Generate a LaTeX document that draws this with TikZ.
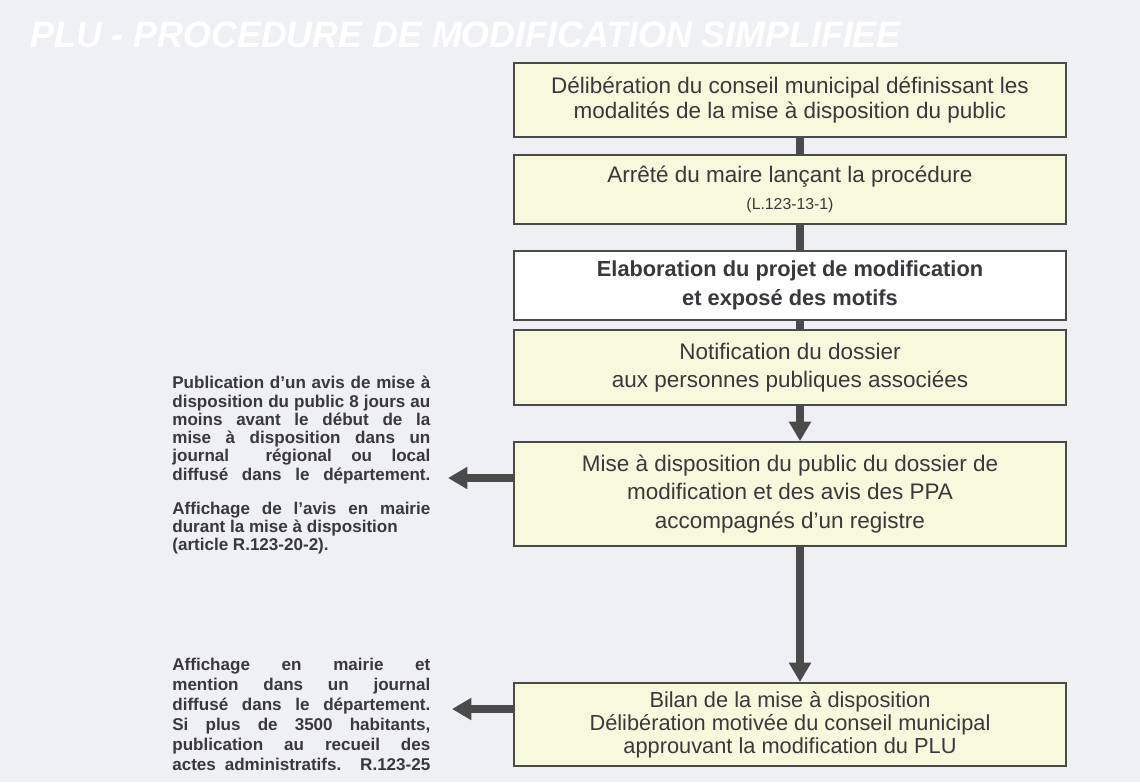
\documentclass[tikz,border=0pt]{standalone}
\usepackage{fontspec}
\setmainfont{Liberation Sans}
\usetikzlibrary{arrows.meta}
\definecolor{fond}{HTML}{EEF0F3}
\definecolor{jaune}{HTML}{F6F9DC}
\definecolor{trait}{HTML}{4A4A4A}
\definecolor{texte}{HTML}{3A383C}
\newlength{\largeur}\setlength{\largeur}{5.16cm}
\newcommand{\ligne}[1]{\makebox[\largeur][s]{#1}}
\tikzset{
	etape/.style={draw=trait, line width=1.1pt, fill=jaune, text=texte, minimum width=11.04cm, align=center, inner sep=0pt, font=\fontsize{12.8}{14.5}\selectfont},
	lien/.style={draw=trait, line width=4pt},
	fleche/.style={lien, -{Triangle[width=12pt,length=11pt]}},
	note/.style={text=texte, align=left, inner sep=0pt, anchor=north west, font=\bfseries\fontsize{9.7}{10.4}\selectfont}
}
\begin{document}
\begin{tikzpicture}
		\useasboundingbox[fill=fond] (0,0) rectangle (22.8,-15.64);
		\coordinate (axe) at (16,0);
		\coordinate (t1) at (8.96,-9.56);
		\coordinate (t2) at (9.04,-14.18);

		\node[anchor=base west, inner sep=0pt, text=white, font=\bfseries\itshape\fontsize{21}{21}\selectfont] (titre) at (0.6,-0.94) {\scalebox{0.97}[1]{PLU - PROCEDURE DE MODIFICATION SIMPLIFIEE}};

		\node[etape, minimum height=1.48cm] (b1) at (15.8,-2.0) {Délibération du conseil municipal définissant les\\modalités de la mise à disposition du public};
		\node[etape, minimum height=1.38cm] (b2) at (15.8,-3.79) {Arrêté du maire lançant la procédure\\[1pt]{\fontsize{9}{10}\selectfont (L.123-13-1)}};
		\node[etape, minimum height=1.38cm, fill=white, font=\bfseries\fontsize{12.4}{16.4}\selectfont] (b3) at (15.8,-5.71) {Elaboration du projet de modification\\et exposé des motifs};
		\node[etape, minimum height=1.5cm, font=\fontsize{12.8}{15.9}\selectfont] (b4) at (15.8,-7.35) {Notification du dossier\\aux personnes publiques associées};
		\node[etape, minimum height=2.08cm, font=\fontsize{12.8}{16}\selectfont] (b5) at (15.8,-9.88) {Mise à disposition du public du dossier de\\modification et des avis des PPA\\accompagnés d'un registre};
		\node[etape, minimum height=1.66cm, font=\fontsize{12.4}{13}\selectfont] (b6) at (15.8,-14.49) {Bilan de la mise à disposition\\Délibération motivée du conseil municipal\\approuvant la modification du PLU};

		\node[note] (n1) at (3.44,-7.52) {\ligne{Publication d'un avis de mise à}\\\ligne{disposition du public 8 jours au}\\\ligne{moins avant le début de la}\\\ligne{mise à disposition dans un}\\\ligne{journal \quad régional ou local}\\\ligne{diffusé dans le département.}\\[9pt]\ligne{Affichage de l'avis en mairie}\\durant la mise à disposition\\(article R.123-20-2).};
		\node[note, font=\bfseries\fontsize{9.7}{11.4}\selectfont] (n2) at (3.44,-13.15) {\ligne{Affichage en mairie et}\\\ligne{mention dans un journal}\\\ligne{diffusé dans le département.}\\\ligne{Si plus de 3500 habitants,}\\\ligne{publication au recueil des}\\\ligne{actes administratifs. R.123-25}};

		\draw[lien] (b1.south -| axe) -- (b2.north -| axe);
		\draw[lien] (b2.south -| axe) -- (b3.north -| axe);
		\draw[lien] (b3.south -| axe) -- (b4.north -| axe);
		\draw[fleche] (b4.south -| axe) -- (b5.north -| axe);
		\draw[fleche] (b5.south -| axe) -- (b6.north -| axe);
		\draw[fleche] (b5.west |- t1) -- (t1);
		\draw[fleche] (b6.west |- t2) -- (t2);
	\end{tikzpicture}
\end{document}
